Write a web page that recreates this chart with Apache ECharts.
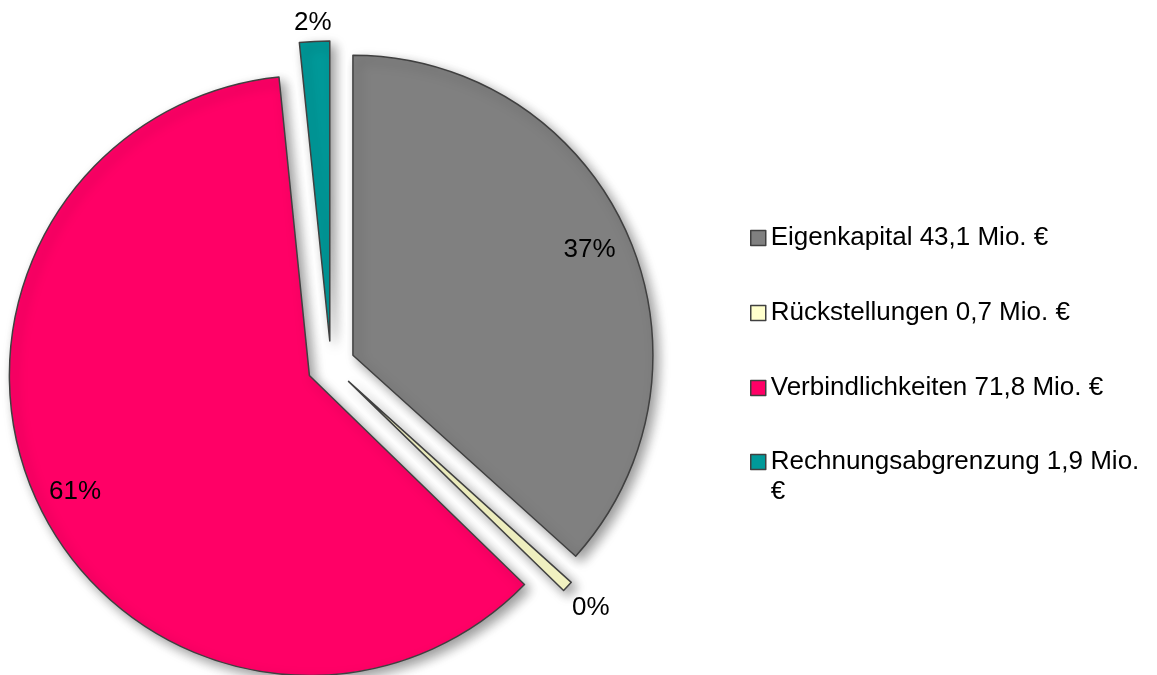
<!DOCTYPE html>
<html>
<head>
<meta charset="utf-8">
<script src="https://cdn.jsdelivr.net/npm/echarts@6/dist/echarts.min.js"></script>
<style>
  html, body { margin: 0; padding: 0; background: #fff; }
  #chart { width: 1157px; height: 675px; }
</style>
</head>
<body>
<div id="chart"></div>
<script>
const categories = ['Eigenkapital', 'Rückstellungen', 'Verbindlichkeiten', 'Rechnungsabgrenzung'];
const valuesMio = [43.1, 0.7, 71.8, 1.9];
const percentLabels = ['37%', '0%', '61%', '2%'];
const colors = ['#808080', '#FFFFCC', '#FF0066', '#009999'];

// where each percent label sits on its radius (like Excel "best fit")
const labelLineLen = [-41, 31, -33, 19];
const labelHalfWidth = [26, 18, 32, 18];

const font = '"Liberation Sans", Arial, sans-serif';

function legendName(i) {
    return categories[i] + ' ' + valuesMio[i].toFixed(1).replace('.', ',') + ' Mio. €';
}

const sliceStyle = {
    borderColor: '#404040',
    borderWidth: 1.5,
    shadowBlur: 12,
    shadowOffsetX: 5,
    shadowOffsetY: 5,
    shadowColor: 'rgba(0,0,0,0.4)'
};

const legendText = {
    fontFamily: font,
    fontSize: 26,
    lineHeight: 30,
    color: '#000',
    width: 380,
    overflow: 'break'
};

const legendBase = {
    orient: 'vertical',
    left: 750,
    padding: 0,
    icon: 'rect',
    itemWidth: 15,
    itemHeight: 15,
    itemGap: 45,
    selectedMode: false,
    textStyle: legendText,
    itemStyle: { borderColor: '#404040', borderWidth: 1.5, shadowBlur: 0, shadowOffsetX: 0, shadowOffsetY: 0 }
};

const chart = echarts.init(document.getElementById('chart'));

chart.setOption({
    animation: false,
    legend: [
        Object.assign({}, legendBase, {
            top: 223,
            data: [0, 1, 2].map(legendName)
        }),
        // the wrapped entry: empty first line so the icon lines up with the first text line
        Object.assign({}, legendBase, {
            top: 417,
            formatter: name => '\n' + name,
            data: [legendName(3)]
        })
    ],
    series: [
        {
            type: 'pie',
            center: [331, 365],
            radius: 300,
            startAngle: 90,
            clockwise: true,
            selectedMode: 'multiple',
            selectedOffset: 24,
            avoidLabelOverlap: false,
            itemStyle: sliceStyle,
            select: { itemStyle: sliceStyle },
            emphasis: { disabled: true },
            label: {
                position: 'outside',
                fontFamily: font,
                fontSize: 26,
                color: '#000'
            },
            labelLine: { show: false, length2: 0 },
            data: valuesMio.map((v, i) => ({
                name: legendName(i),
                value: v,
                selected: true,
                itemStyle: { color: colors[i] },
                label: {
                    formatter: percentLabels[i],
                    distanceToLabelLine: -labelHalfWidth[i]
                },
                labelLine: { length: labelLineLen[i] }
            }))
        }
    ]
});
</script>
</body>
</html>
